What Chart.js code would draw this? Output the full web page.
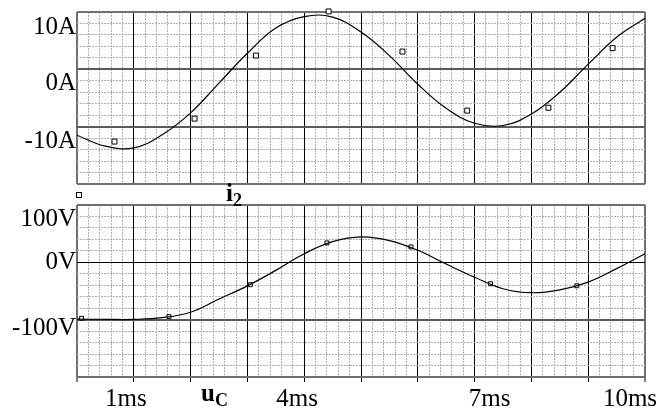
<!DOCTYPE html>
<html>
<head>
<meta charset="utf-8">
<script src="https://cdn.jsdelivr.net/npm/chart.js@4/dist/chart.umd.min.js"></script>
<style>
  html, body { margin: 0; padding: 0; background: #fff; }
  #wrap { position: relative; width: 659px; height: 408px; overflow: hidden; }
  canvas { position: absolute; left: 0; }
  #iPlot { top: 0; }
  #uPlot { top: 200px; }
  .name { position: absolute; z-index: 2; font-family: "Liberation Serif", "Times New Roman", serif;
          font-weight: bold; font-size: 25px; line-height: 25px; color: #000; white-space: nowrap; }
  .name .sub { font-size: 18px; position: relative; top: 5px; }
  .key { position: absolute; z-index: 2; width: 4px; height: 4px; border: 1px solid #000; background: #fff; }
</style>
</head>
<body>
<div id="wrap">
  <canvas id="iPlot" width="659" height="200"></canvas>
  <canvas id="uPlot" width="659" height="208"></canvas>
  <div class="key" style="left:76px; top:192px;"></div>
  <div class="name" style="left:226px; top:180px;">i<span class="sub">2</span></div>
  <div class="name" style="left:201px; top:380px;">u<span class="sub">C</span></div>
</div>
<script>
// --- values (time in ms) ---
const i2Time = [0, 0.5, 1, 1.5, 2, 2.5, 3, 3.5, 4, 4.5, 5, 5.5, 6, 6.5, 7, 7.5, 8, 8.5, 9, 9.5, 10];
const i2Amps = [-11.5, -13.4, -13.7, -11.4, -7.6, -2.4, 2.8, 7.2, 9.2, 9.1, 6.5, 2.4, -2.6, -6.8, -9.4, -9.8, -7.8, -4.0, 0.9, 5.6, 8.9];
const i2MarkTime = [0.66, 2.07, 3.15, 4.43, 5.73, 6.87, 8.3, 9.43];
const i2MarkAmps = [-12.6, -8.6, 2.4, 10.1, 3.1, -7.2, -6.7, 3.7];

const ucTime = [0, 0.5, 1, 1.5, 2, 2.5, 3, 3.5, 4, 4.5, 5, 5.5, 6, 6.5, 7, 7.5, 8, 8.5, 9, 9.5, 10];
const ucVolts = [-99, -99.5, -99.5, -96.5, -87, -64, -41, -14, 15, 36, 44.5, 38, 21, -3, -26, -46, -53, -48, -34.5, -11, 15];
const ucMarkTime = [0.08, 1.62, 3.05, 4.4, 5.88, 7.28, 8.8];
const ucMarkVolts = [-97.7, -94.7, -39, 33.9, 26.9, -37.4, -40.9];

// --- axes ---
const xTicks = [0, 1, 2, 3, 4, 5, 6, 7, 8, 9, 10];
const xLabelAt = [1, 4, 7, 10];
const xLabels = ['1ms', '4ms', '7ms', '10ms'];
const i2Ticks = [-20, -10, 0, 10];
const i2LabelAt = [10, 0, -10];
const i2Labels = ['10A', '0A', '-10A'];
const ucTicks = [-200, -100, 0, 100];
const ucLabelAt = [100, 0, -100];
const ucLabels = ['100V', '0V', '-100V'];

// label nudges in px (the original plotter does not centre its labels)
const xLabelNudge = [-8, -7, 15, -15];
const i2LabelNudge = [15, 14, 15];
const ucLabelNudge = [14, 0, 9];

const serif = '"Liberation Serif", "Times New Roman", serif';
const FRAME = '#707070';
const PLOT_W = 568;   // chart area width, px
const PLOT_H = 172;   // chart area height, px

function fixSize(w, h) {
  return s => {
    if (w !== undefined) s.width = w;
    if (h !== undefined) s.height = h;
    s.paddingLeft = s.paddingRight = s.paddingTop = s.paddingBottom = 0;
  };
}

function setTicks(values) {
  return s => { s.ticks = values.map(v => ({ value: v })); };
}

function minorTicks(min, max, step) {
  const out = [];
  const n = Math.round((max - min) / step);
  for (let k = 0; k <= n; k++) {
    if (k % 5 !== 0) out.push(min + k * step);
  }
  return out;
}

function makePanel(id, p) {
  const yMin = p.ticks[0], yMax = p.ticks[p.ticks.length - 1];
  const perPx = (yMax - yMin) / PLOT_H;
  const xEdge = v => v === 0 || v === 10;
  const yEdge = v => v === yMin || v === yMax;
  const yDark = v => p.darkLines.includes(v);

  const scales = {
    xMinor: {
      type: 'linear', position: 'bottom', min: 0, max: 10,
      afterBuildTicks: setTicks(minorTicks(0, 10, 0.2)),
      grid: { color: '#b0b0b0', lineWidth: 1, drawTicks: false },
      border: { display: false, dash: [2, 1] },
      ticks: { display: false },
      afterFit: fixSize(undefined, 0)
    },
    x: {
      type: 'linear', position: 'bottom', min: 0, max: 10,
      afterBuildTicks: setTicks(xTicks),
      grid: {
        color: c => xEdge(c.tick.value) ? FRAME : '#000',
        lineWidth: c => xEdge(c.tick.value) ? 2 : 1,
        drawTicks: p.tickMarks, tickLength: 5, tickColor: '#000', tickWidth: 1
      },
      border: { display: false },
      ticks: { display: false },
      afterFit: fixSize(undefined, p.tickMarks ? 5 : 0)
    },
    yMinor: {
      type: 'linear', position: 'left', min: yMin, max: yMax,
      afterBuildTicks: setTicks(minorTicks(yMin, yMax, (yMax - yMin) / 15)),
      grid: { color: '#b0b0b0', lineWidth: 1, drawTicks: false },
      border: { display: false, dash: [2, 1] },
      ticks: { display: false },
      afterFit: fixSize(0)
    },
    y: {
      type: 'linear', position: 'left', min: yMin, max: yMax,
      afterBuildTicks: setTicks(p.ticks),
      grid: {
        color: c => yDark(c.tick.value) ? '#000' : (yEdge(c.tick.value) ? FRAME : '#5a5a5a'),
        lineWidth: c => yDark(c.tick.value) ? 1 : 2,
        drawTicks: false
      },
      border: { display: false },
      ticks: { display: false },
      afterFit: fixSize(0)
    },
    yLab: {
      type: 'linear', position: 'left', min: yMin, max: yMax, weight: 10,
      afterBuildTicks: setTicks(p.labelAt.map((v, k) => v - p.labelNudge[k] * perPx)),
      grid: { display: false, drawTicks: false },
      border: { display: false },
      ticks: {
        autoSkip: false, padding: 1, color: '#000',
        font: { family: serif, size: 25 },
        callback: (v, k) => p.labels[k]
      },
      afterFit: fixSize(77)
    }
  };

  if (p.tickMarks) {
    scales.xLab = {
      type: 'linear', position: 'bottom', min: 0, max: 10, weight: 10,
      afterBuildTicks: setTicks(xLabelAt.map((v, k) => v + xLabelNudge[k] * 10 / PLOT_W)),
      grid: { display: false, drawTicks: false },
      border: { display: false },
      ticks: {
        autoSkip: false, maxRotation: 0, padding: 2, color: '#000',
        font: { family: serif, size: 25 },
        callback: (v, k) => xLabels[k]
      },
      afterFit: fixSize(undefined, 26)
    };
  }

  return new Chart(document.getElementById(id), {
    type: 'scatter',
    data: {
      datasets: [{
        data: p.time.map((t, k) => ({ x: t, y: p.values[k] })),
        showLine: true,
        borderColor: '#000',
        borderWidth: 1.2,
        pointRadius: 0,
        tension: 0.4,
        xAxisID: 'x', yAxisID: 'y',
        clip: false
      }, {
        data: p.markTime.map((t, k) => ({ x: t, y: p.markValues[k] })),
        showLine: false,
        pointStyle: 'rect',
        pointRadius: p.markRadius,
        borderColor: '#000',
        borderWidth: 1,
        backgroundColor: '#fff',
        xAxisID: 'x', yAxisID: 'y',
        clip: false
      }]
    },
    options: {
      responsive: false,
      animation: false,
      devicePixelRatio: 1,
      layout: { autoPadding: false, padding: p.padding },
      plugins: { legend: { display: false }, tooltip: { enabled: false } },
      scales: scales
    }
  });
}

document.addEventListener('DOMContentLoaded', () => {
  // top: i2 in amperes
  makePanel('iPlot', {
    time: i2Time, values: i2Amps, markTime: i2MarkTime, markValues: i2MarkAmps,
    ticks: i2Ticks, labelAt: i2LabelAt, labels: i2Labels, labelNudge: i2LabelNudge,
    darkLines: [], tickMarks: false, markRadius: 3.5,
    padding: { top: 12, right: 14, bottom: 16, left: 0 }
  });

  // bottom: uC in volts
  makePanel('uPlot', {
    time: ucTime, values: ucVolts, markTime: ucMarkTime, markValues: ucMarkVolts,
    ticks: ucTicks, labelAt: ucLabelAt, labels: ucLabels, labelNudge: ucLabelNudge,
    darkLines: [0], tickMarks: true, markRadius: 2.8,
    padding: { top: 5, right: 14, bottom: 0, left: 0 }
  });
});
</script>
</body>
</html>
